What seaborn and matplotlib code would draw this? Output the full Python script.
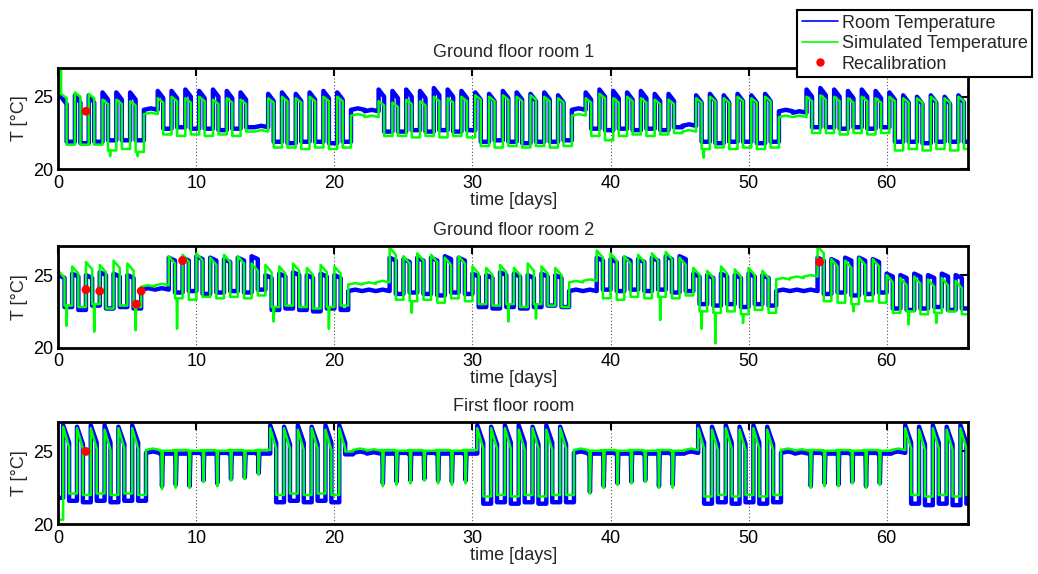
import numpy as np
import pandas as pd
import matplotlib
matplotlib.use("Agg")
import matplotlib.pyplot as plt
import seaborn as sns
from matplotlib.lines import Line2D

# ---------------- data (per-day readings, day 0 .. 65) ----------------
titles = ["Ground floor room 1", "Ground floor room 2", "First floor room"]
series_names = ["Room Temperature", "Simulated Temperature", "Recalibration"]
x_ticks = [0, 10, 20, 30, 40, 50, 60]
y_ticks = [20, 25]

# W = occupied day (day / night step), F = unoccupied flat day, D = flat day with a short dip
gf1_mode = "WWWWWWFWWWWWWWFWWWWWWFFWWWWWWWWWWWWWWFWWWWWWWFWWWWWWFFWWWWWWWWWWWW"
gf1_room_hi = [25.0, 25.1, 25.1, 25.3, 25.3, 25.3, 24.1,
               25.4, 25.4, 25.5, 25.4, 25.5, 25.4, 25.3, 22.9,
               25.2, 25.3, 25.2, 25.3, 25.4, 25.3, 24.1, 24.0,
               25.5, 25.4, 25.5, 25.4, 25.6, 25.5, 25.4,
               25.3, 25.2, 25.4, 25.3, 25.2, 25.3, 25.1, 24.1,
               25.3, 25.5, 25.4, 25.3, 25.4, 25.2, 25.2, 23.0,
               25.1, 25.2, 25.1, 25.2, 25.1, 25.2, 24.0, 23.9,
               25.5, 25.6, 25.5, 25.4, 25.5, 25.4,
               25.3, 25.1, 25.0, 25.1, 25.0, 25.1]
gf1_room_lo = [21.9, 21.8, 21.9, 22.0, 22.0, 22.0, 24.1,
               22.8, 22.9, 22.8, 22.8, 22.7, 22.8, 22.9, 22.9,
               21.9, 21.8, 21.9, 21.9, 21.8, 21.9, 24.1, 24.0,
               22.6, 22.6, 22.7, 22.6, 22.7, 22.6, 22.7,
               21.9, 22.0, 21.9, 21.8, 21.9, 21.9, 22.0, 24.1,
               22.8, 22.7, 22.8, 22.7, 22.8, 22.7, 22.9, 23.0,
               21.9, 21.8, 21.9, 21.9, 21.8, 21.9, 24.0, 23.9,
               22.9, 22.9, 22.8, 22.9, 22.8, 22.9,
               21.9, 21.9, 21.8, 21.9, 21.9, 21.9]
gf1_sim_hi = [25.2, 25.3, 25.2, 24.8, 24.8, 24.7, 23.8,
              24.9, 25.0, 24.9, 25.0, 24.8, 24.9, 24.8, 22.6,
              24.9, 25.0, 24.9, 25.0, 25.0, 25.0, 23.7, 23.6,
              24.7, 24.6, 24.8, 24.7, 25.0, 24.9, 25.0,
              25.1, 25.0, 25.1, 25.0, 25.1, 25.0, 24.9, 23.7,
              24.9, 25.2, 24.9, 25.0, 24.9, 24.8, 24.8, 22.6,
              24.9, 25.0, 24.9, 25.0, 24.9, 25.0, 23.6, 23.6,
              25.0, 25.1, 25.0, 24.9, 25.0, 24.9,
              25.0, 24.9, 24.9, 25.0, 24.9, 25.0]
gf1_sim_lo = [21.7, 21.7, 21.7, 21.3, 21.4, 21.2, 23.8,
              22.4, 22.3, 22.4, 22.3, 22.4, 22.3, 22.6, 22.6,
              21.5, 21.5, 21.4, 21.5, 21.4, 21.5, 23.7, 23.6,
              22.3, 22.3, 22.2, 22.3, 22.2, 22.3, 22.2,
              21.6, 21.5, 21.6, 21.5, 21.6, 21.5, 21.6, 23.7,
              22.3, 22.0, 22.3, 22.4, 22.3, 22.4, 22.5, 22.6,
              21.4, 21.5, 21.4, 21.5, 21.4, 21.5, 23.6, 23.6,
              22.5, 22.5, 22.4, 22.5, 22.4, 22.5,
              21.3, 21.4, 21.3, 21.4, 21.3, 21.4]
gf1_sim_dip = {3: 20.9, 5: 20.9, 46: 20.8}
gf1_start = [25.0, 27.0]
gf1_recal_t = [2.0]
gf1_recal_T = [24.0]

gf2_mode = "WWWWWWFFWWWWWWWWWWWWWFFFWWWWWWWWWWWWWFFWWWWWWWWWWWWWFFFWWWWWWWWWWW"
gf2_room_hi = [25.0, 25.1, 25.0, 25.2, 25.1, 25.0, 24.0, 24.0,
               26.2, 26.2, 26.3, 26.2, 26.1, 26.2, 26.3,
               25.0, 25.1, 25.2, 25.0, 25.1, 25.0, 23.9, 23.9, 23.9,
               26.2, 26.1, 26.2, 26.2, 26.3, 26.2,
               25.1, 25.0, 25.2, 25.1, 25.0, 25.1, 25.0, 23.9, 23.9,
               26.2, 26.1, 26.2, 26.1, 26.2, 26.3, 26.3,
               25.1, 25.0, 25.1, 25.0, 25.1, 25.0, 23.9, 23.9, 23.9,
               26.2, 26.1, 26.2, 26.2, 26.1,
               25.1, 25.0, 25.1, 25.0, 25.1, 25.0]
gf2_room_lo = [22.8, 22.6, 22.9, 22.7, 22.8, 22.7, 24.0, 24.0,
               23.8, 23.9, 23.7, 23.8, 23.9, 23.8, 24.0,
               22.6, 22.7, 22.6, 22.5, 22.7, 22.6, 23.9, 23.9, 23.9,
               23.7, 23.8, 23.7, 23.6, 23.8, 23.7,
               22.8, 22.7, 22.8, 22.7, 22.8, 22.9, 22.8, 23.9, 23.9,
               24.0, 23.9, 24.0, 23.9, 24.0, 23.8, 23.9,
               23.0, 22.9, 23.0, 22.8, 23.0, 22.9, 23.9, 23.9, 23.9,
               23.7, 23.8, 23.6, 23.7, 23.8,
               22.7, 22.6, 22.7, 22.8, 22.6, 22.7]
gf2_sim_hi = [25.3, 25.6, 25.9, 25.7, 26.0, 25.8, 24.2, 24.3,
              26.3, 26.4, 26.5, 26.2, 26.4, 26.3, 25.8,
              25.7, 25.6, 25.8, 25.5, 25.7, 25.6, 24.35, 24.4, 24.5,
              26.9, 26.3, 26.5, 26.4, 26.2, 26.3,
              25.6, 25.5, 25.7, 25.5, 25.8, 25.6, 25.5, 24.5, 24.6,
              26.7, 26.5, 26.3, 26.4, 26.5, 26.6, 26.2,
              25.5, 25.3, 25.6, 25.4, 25.5, 25.3, 24.7, 24.8, 24.9,
              27.0, 26.1, 26.0, 26.2, 26.1,
              25.0, 24.8, 24.9, 24.7, 24.8, 24.6]
gf2_sim_lo = [22.9, 22.8, 23.0, 22.7, 22.9, 22.8, 24.2, 24.3,
              23.4, 23.3, 23.5, 23.4, 23.5, 23.4, 23.6,
              22.8, 22.9, 22.8, 22.7, 22.8, 22.9, 24.35, 24.4, 24.5,
              23.3, 23.2, 23.3, 23.1, 23.4, 23.2,
              23.0, 22.9, 23.0, 22.8, 23.0, 22.9, 22.8, 24.5, 24.6,
              23.4, 23.3, 23.5, 23.4, 23.5, 23.4, 23.6,
              22.5, 22.4, 22.5, 22.3, 22.6, 22.4, 24.7, 24.8, 24.9,
              23.2, 23.1, 23.0, 23.2, 23.1,
              22.4, 22.5, 22.3, 22.4, 22.5, 22.3]
gf2_sim_dip = {0: 21.5, 2: 21.1, 5: 21.2, 8: 21.3, 15: 21.8, 19: 21.3, 25: 22.4,
               32: 21.8, 34: 22.0, 43: 21.9, 46: 21.3, 47: 20.3, 49: 21.7,
               57: 22.5, 61: 21.6, 63: 21.7}
gf2_start = [25.0, 27.0]
gf2_recal_t = [2.0, 3.0, 5.65, 6.0, 9.0, 55.15]
gf2_recal_T = [24.0, 23.9, 23.0, 23.9, 26.0, 25.9]

ff_mode = "WWWWWWFDDDDDDDDWWWWWWFFDDDDDDDWWWWWWWFDDDDDDDFWWWWWWFFDDDDDDFWWWWW"
ff_room_hi = [26.8, 26.7, 26.8, 26.8, 26.7, 26.8, 24.9, 24.85, 24.85, 24.9, 24.85, 24.9, 24.85, 24.9, 24.85,
              26.8, 26.7, 26.8, 26.7, 26.8, 26.8, 24.9, 24.85, 24.85, 24.9, 24.85, 24.9, 24.85, 24.9, 24.85,
              26.8, 26.7, 26.8, 26.8, 26.7, 26.8, 26.7, 24.9, 24.85, 24.9, 24.85, 24.9, 24.85, 24.9, 24.85, 24.9,
              26.8, 26.7, 26.8, 26.7, 26.8, 26.7, 24.9, 24.85, 24.9, 24.85, 24.9, 24.85, 24.9, 24.85, 24.9,
              26.8, 26.7, 26.8, 26.7, 26.8]
ff_room_lo = [21.6, 21.5, 21.6, 21.5, 21.6, 21.6, 24.9, 22.6, 22.7, 22.6, 23.0, 22.8, 23.1, 23.2, 23.5,
              21.5, 21.6, 21.5, 21.6, 21.5, 24.8, 24.9, 24.85, 22.8, 22.9, 23.0, 23.1, 23.0, 22.9, 23.0,
              21.4, 21.5, 21.4, 21.5, 21.4, 21.5, 21.5, 24.9, 22.2, 22.6, 22.8, 22.9, 23.0, 22.6, 22.7, 24.9,
              21.4, 21.5, 21.4, 21.5, 21.4, 21.5, 24.9, 24.85, 22.6, 22.8, 22.7, 22.9, 22.6, 22.8, 24.9,
              21.4, 21.3, 21.4, 21.3, 21.4]
ff_sim_hi = [26.7, 26.6, 26.6, 26.5, 26.6, 26.6, 25.1, 25.05, 25.1, 25.05, 25.1, 25.05, 25.1, 25.05, 25.1,
             26.6, 26.6, 26.5, 26.6, 26.5, 26.6, 25.1, 25.05, 25.1, 25.05, 25.1, 25.05, 25.1, 25.05, 25.1,
             26.6, 26.6, 26.6, 26.5, 26.6, 26.5, 26.6, 25.1, 25.05, 25.1, 25.05, 25.1, 25.05, 25.1, 25.05, 25.1,
             26.6, 26.5, 26.6, 26.5, 26.6, 26.5, 25.1, 25.05, 25.1, 25.05, 25.1, 25.05, 25.1, 25.05, 25.1,
             26.6, 26.5, 26.6, 26.5, 26.6]
ff_sim_lo = [22.1, 22.0, 22.1, 22.0, 22.1, 22.0, 25.1, 22.4, 22.5, 22.5, 22.9, 22.6, 23.0, 23.1, 23.4,
             22.0, 22.1, 22.0, 22.1, 22.0, 25.0, 25.1, 25.05, 22.6, 22.7, 22.8, 23.0, 22.8, 22.7, 22.8,
             21.9, 22.0, 21.9, 22.0, 21.9, 22.0, 22.0, 25.1, 22.1, 22.5, 22.7, 22.8, 22.9, 22.5, 22.5, 25.1,
             21.9, 22.0, 21.9, 22.0, 21.9, 22.0, 25.1, 25.05, 22.5, 22.6, 22.6, 22.8, 22.5, 22.7, 25.1,
             22.0, 21.9, 22.0, 21.9, 22.0]
ff_start = [21.8, 20.3]
ff_recal_t = [2.0]
ff_recal_T = [25.0]

# daily schedule of each room (fraction of a day) and decay over the occupied period
panel_rise = [0.2, 0.0, 0.35]
panel_fall = [0.6, 0.45, 0.78]
panel_decay = [(0.5, 0.3), (0.2, 0.5), (1.2, 1.4)]


def build(mode, hi, lo, start, rise, fall, decay, dips=None):
    t, v = [0.0], [start]
    prev = start
    for d, (m, h, l) in enumerate(zip(mode, hi, lo)):
        t0 = d + rise
        t.append(t0); v.append(prev)
        if m == "W":
            t += [t0, d + fall, d + fall]
            v += [h, h - decay, l]
            if dips and d in dips:
                t += [d + fall + 0.12, d + fall + 0.15, d + fall + 0.19]
                v += [l, dips[d], l]
            prev = l
        elif m == "D":
            t += [t0, t0 + 0.12, t0 + 0.16, t0 + 0.22]
            v += [h, h, l, h]
            prev = h
        else:
            t += [t0, t0 + 0.5]
            v += [h, h + 0.1]
            prev = h
    t.append(len(mode) + rise); v.append(prev)
    return t, v


panels = [
    (gf1_mode, gf1_room_hi, gf1_room_lo, gf1_sim_hi, gf1_sim_lo, gf1_sim_dip, gf1_start, gf1_recal_t, gf1_recal_T),
    (gf2_mode, gf2_room_hi, gf2_room_lo, gf2_sim_hi, gf2_sim_lo, gf2_sim_dip, gf2_start, gf2_recal_t, gf2_recal_T),
    (ff_mode, ff_room_hi, ff_room_lo, ff_sim_hi, ff_sim_lo, None, ff_start, ff_recal_t, ff_recal_T),
]

# ---------------- figure ----------------
sns.set_theme(style="white")
plt.rcParams["font.family"] = ["Liberation Sans", "DejaVu Sans"]
plt.rcParams["font.size"] = 13

fig = plt.figure(figsize=(10.38, 5.74), dpi=100)
bottoms = [0.705, 0.3943, 0.0871]
BLUE, GREEN, RED = "#0000ff", "#00ff00", "#ff0000"

for i, (mode, rhi, rlo, shi, slo, sdip, start, rt, rT) in enumerate(panels):
    ax = fig.add_axes([0.0562, bottoms[i], 0.8764, 0.177])
    tb, vb = build(mode, rhi, rlo, start[0], panel_rise[i], panel_fall[i], panel_decay[i][0])
    tg, vg = build(mode, shi, slo, start[1], panel_rise[i], panel_fall[i], panel_decay[i][1], sdip)
    dfb = pd.DataFrame({"t": tb, "T": vb})
    dfg = pd.DataFrame({"t": tg, "T": vg})
    sns.lineplot(data=dfb, x="t", y="T", sort=False, estimator=None, color=BLUE,
                 linewidth=3.2, ax=ax, legend=False)
    sns.lineplot(data=dfg, x="t", y="T", sort=False, estimator=None, color=GREEN,
                 linewidth=1.8, ax=ax, legend=False)
    sns.scatterplot(x=rt, y=rT, color=RED, s=40, edgecolor="none", zorder=5, ax=ax, legend=False)

    ax.set_xlim(0, 65.9)
    ax.set_ylim(20, 27)
    ax.set_xticks(x_ticks)
    ax.set_yticks(y_ticks)
    ax.tick_params(direction="in", top=True, right=True, length=6, width=1.5,
                   labelsize=13, pad=4, colors="black")
    ax.grid(axis="x", linestyle=(0, (1, 2)), color="#555555", linewidth=0.8)
    ax.grid(axis="y", visible=False)
    for s in ax.spines.values():
        s.set_linewidth(2)
        s.set_color("black")
    ax.set_title(titles[i], fontsize=13, pad=8)
    ax.set_xlabel("time [days]", fontsize=13, labelpad=0)
    ax.set_ylabel("T [°C]", fontsize=13, labelpad=3)

handles = [Line2D([], [], color=BLUE, lw=1.2),
           Line2D([], [], color=GREEN, lw=1.2),
           Line2D([], [], color=RED, marker="o", ms=5, lw=0)]
leg = fig.legend(handles, series_names, loc="upper right", bbox_to_anchor=(0.9943, 0.9826),
                 bbox_transform=fig.transFigure, borderaxespad=0, frameon=True, fancybox=False,
                 edgecolor="black", framealpha=1, fontsize=13, handlelength=2.0,
                 handletextpad=0.2, labelspacing=0.2, borderpad=0.25)
leg.get_frame().set_linewidth(1.5)

fig.savefig("out.png", dpi=100)
